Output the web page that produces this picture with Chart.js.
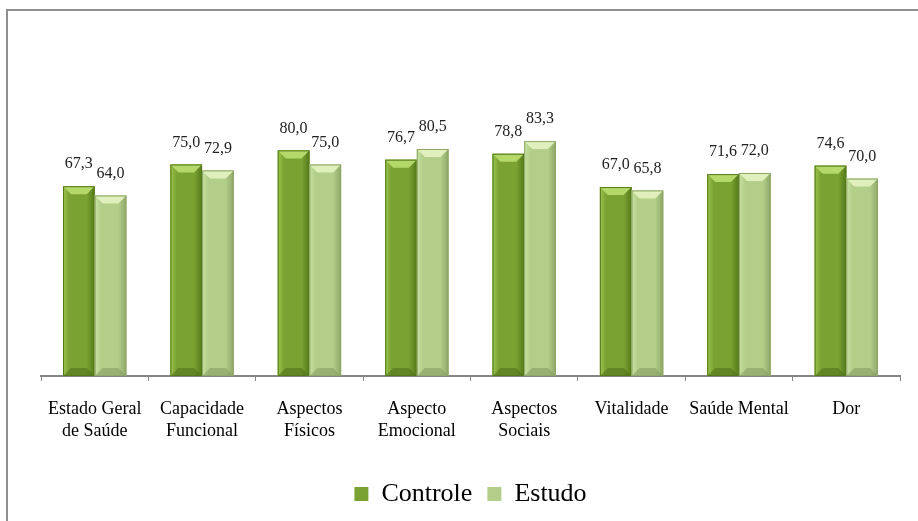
<!DOCTYPE html>
<html>
<head>
<meta charset="utf-8">
<script src="https://cdn.jsdelivr.net/npm/chart.js@4"></script>
<style>
  body { margin: 0; background: #fff; }
  #wrap { position: relative; width: 918px; height: 521px; overflow: hidden; }
  #frame { position: absolute; left: 6px; top: 9px; width: 930px; height: 540px;
           border-top: 2px solid #8e8e8e; border-left: 2px solid #8e8e8e; }
  canvas { position: absolute; left: 0; top: 0; }
</style>
</head>
<body>
<div id="wrap">
  <div id="frame"></div>
  <canvas id="myChart" width="918" height="521"></canvas>
</div>
<script>
// dados do grafico
const categorias = [
  ['Estado Geral', 'de Saúde'],
  ['Capacidade', 'Funcional'],
  ['Aspectos', 'Físicos'],
  ['Aspecto', 'Emocional'],
  ['Aspectos', 'Sociais'],
  'Vitalidade',
  'Saúde Mental',
  'Dor'
];
const controle = [67.3, 75.0, 80.0, 76.7, 78.8, 67.0, 71.6, 74.6];
const estudo = [64.0, 72.9, 75.0, 80.5, 83.3, 65.8, 72.0, 70.0];

const cores = {
  Controle: { base: '#7aa232', light: '#9cc44e', dark: '#557a1a', top: '#b4d86a', bottom: '#4a6a16' },
  Estudo:   { base: '#b2ce88', light: '#c8e2a2', dark: '#8ea668', top: '#e0f0bc', bottom: '#7f9660' }
};

// barras com efeito chanfrado
const bevelPlugin = {
  id: 'bevel',
  afterDatasetsDraw(chart) {
    const c = chart.ctx;
    chart.data.datasets.forEach((ds, i) => {
      const col = cores[ds.label];
      chart.getDatasetMeta(i).data.forEach(el => {
        const p = el.getProps(['x', 'y', 'base', 'width'], true);
        const l = p.x - p.width / 2, r = p.x + p.width / 2;
        const t = p.y, b = p.base;
        const bv = 8;
        c.save();
        const g = c.createLinearGradient(l, 0, r, 0);
        g.addColorStop(0, col.light);
        g.addColorStop(0.2, col.base);
        g.addColorStop(0.75, col.base);
        g.addColorStop(1, col.dark);
        c.fillStyle = g;
        c.fillRect(l, t, r - l, b - t);
        // topo
        c.fillStyle = col.top;
        c.beginPath();
        c.moveTo(l, t); c.lineTo(r, t); c.lineTo(r - bv, t + bv); c.lineTo(l + bv, t + bv);
        c.closePath(); c.fill();
        // base
        c.fillStyle = col.bottom;
        c.globalAlpha = 0.5;
        c.beginPath();
        c.moveTo(l, b); c.lineTo(r, b); c.lineTo(r - bv, b - bv); c.lineTo(l + bv, b - bv);
        c.closePath(); c.fill();
        c.globalAlpha = 1;
        c.strokeStyle = col.dark;
        c.lineWidth = 1;
        c.strokeRect(l + 0.5, t + 0.5, r - l - 1, b - t - 1);
        c.restore();
      });
    });
  }
};

// rotulos de valor
const valoresPlugin = {
  id: 'valores',
  afterDatasetsDraw(chart) {
    const c = chart.ctx;
    c.save();
    c.font = '16px "Liberation Serif", "Times New Roman", serif';
    c.fillStyle = '#222';
    c.textAlign = 'center';
    c.textBaseline = 'middle';
    chart.data.datasets.forEach((ds, i) => {
      chart.getDatasetMeta(i).data.forEach((el, j) => {
        const v = ds.data[j].toFixed(1).replace('.', ',');
        c.fillText(v, el.x, el.y - 22);
      });
    });
    c.restore();
  }
};

const ctx = document.getElementById('myChart');
new Chart(ctx, {
  type: 'bar',
  data: {
    labels: categorias,
    datasets: [
      { label: 'Controle', data: controle, backgroundColor: cores.Controle.base },
      { label: 'Estudo', data: estudo, backgroundColor: cores.Estudo.base }
    ]
  },
  options: {
    responsive: false,
    animation: false,
    categoryPercentage: 0.59,
    barPercentage: 1,
    layout: { padding: { left: 41, right: 18, top: 94, bottom: 4 } },
    scales: {
      y: { display: false, min: 0, max: 100 },
      x: {
        grid: { display: true, drawOnChartArea: false, drawTicks: true, tickLength: 5, offset: true, color: '#868686' },
        border: { display: true, color: '#868686', width: 2 },
        ticks: {
          color: '#000',
          padding: 17,
          font: { family: '"Liberation Serif", "Times New Roman", serif', size: 18, lineHeight: 1.22 }
        },
        afterFit(scale) { scale.height = 90; }
      }
    },
    plugins: {
      tooltip: { enabled: false },
      legend: {
        position: 'bottom',
        labels: {
          color: '#000',
          boxWidth: 14,
          boxHeight: 14,
          padding: 15,
          font: { family: '"Liberation Serif", "Times New Roman", serif', size: 26 }
        }
      }
    }
  },
  plugins: [bevelPlugin, valoresPlugin]
});
</script>
</body>
</html>
